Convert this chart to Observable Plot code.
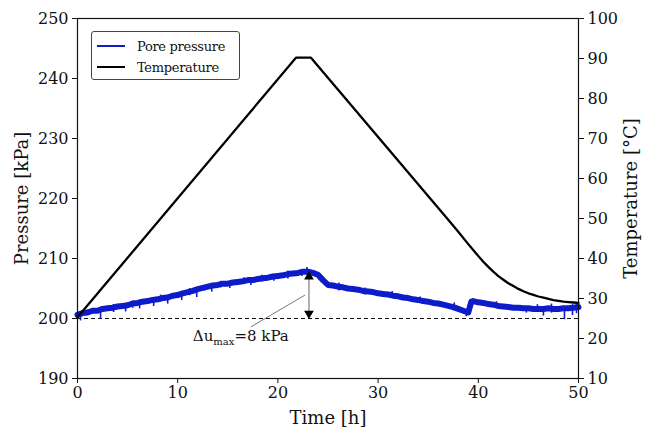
<!DOCTYPE html>
<html>
<head>
<meta charset="utf-8">
<script src="https://cdn.jsdelivr.net/npm/d3@7"></script>
<script src="https://cdn.jsdelivr.net/npm/@observablehq/plot@0.6"></script>
<style>
  html, body { margin: 0; padding: 0; background: #fff; }
  #wrap { position: relative; width: 650px; height: 435px; font-family: "DejaVu Serif", "Liberation Serif", serif; }
  #wrap svg, #wrap svg text { font-family: "DejaVu Serif", "Liberation Serif", serif !important; }
  #legend { position: absolute; left: 91px; top: 31px; width: 149px; height: 49px; border: 1px solid #444; border-radius: 3px; background: #fff; box-sizing: border-box; }
  .lg-row { position: absolute; left: 5px; height: 18px; display: flex; align-items: center; font-size: 13px; letter-spacing: -0.3px; white-space: nowrap; color: #111; }
  .lg-line { width: 28px; height: 0; border-top: 2px solid; margin-right: 12px; flex: none; }
</style>
</head>
<body>
<div id="wrap"></div>
<script>
// ---- data ----
const presTime = [0,0.5,1,1.5,2,2.5,3,3.5,4,4.5,5,5.5,6,6.5,7,7.5,8,8.5,9,9.5,10,10.5,11,11.5,12,12.5,13,13.5,14,14.5,15,15.5,16,16.5,17,17.5,18,18.5,19,19.5,20,20.5,21,21.5,22,22.5,23,23.5,24,24.5,25,25.5,26,26.5,27,27.5,28,28.5,29,29.5,30,30.5,31,31.5,32,32.5,33,33.5,34,34.5,35,35.5,36,36.5,37,37.5,38,38.5,39,39.3,39.5,40,40.5,41,41.5,42,42.5,43,43.5,44,44.5,45,45.5,46,46.5,47,47.5,48,48.5,49,49.5,50];
const presVal = [200.6,200.9,201.0,201.3,201.3,201.6,201.7,201.8,202.0,202.1,202.2,202.5,202.6,202.8,202.9,203.1,203.2,203.4,203.5,203.8,203.9,204.2,204.4,204.6,204.9,205.1,205.3,205.5,205.6,205.8,205.8,206.0,206.1,206.2,206.4,206.4,206.6,206.7,206.8,207.0,207.1,207.2,207.4,207.5,207.6,207.8,207.8,207.6,207.3,206.4,205.6,205.5,205.3,205.2,205.0,204.9,204.8,204.6,204.5,204.4,204.2,204.1,204.0,203.8,203.7,203.5,203.4,203.2,203.1,202.9,202.8,202.6,202.5,202.3,202.1,201.9,201.6,201.3,201.0,202.8,202.9,202.7,202.6,202.4,202.3,202.1,202.0,201.9,201.8,201.8,201.7,201.7,201.6,201.6,201.6,201.7,201.6,201.6,201.7,201.7,201.8,201.9];
// noise spikes (low / high end of each)
const spikeTime = [0.3,1.1,2.3,3.6,4.8,5.5,6.2,7.6,8.3,9.0,10.4,11.2,11.9,12.7,13.4,14.3,15.2,16.6,17.3,18.4,19.6,21.0,22.4,22.9,26.1,28.7,31.4,34.2,37.6,38.8,41.8,44.8,45.9,46.5,47.3,48.6,49.4,49.8];
const spikeLow  = [199.6,200.5,199.9,201.0,201.1,201.7,201.6,202.0,202.8,202.4,203.0,203.8,203.5,204.6,204.4,205.1,205.0,205.7,205.5,206.1,206.2,206.6,207.0,207.2,204.6,203.9,203.4,202.5,201.3,200.3,201.6,200.9,201.0,200.4,200.9,199.8,200.5,200.8];
const spikeTop  = [200.8,201.4,201.5,202.3,202.2,202.9,202.6,203.0,203.9,203.5,204.1,205.0,204.6,205.5,205.4,206.2,205.9,206.8,206.4,207.2,207.0,207.9,207.7,208.5,205.9,205.1,204.5,203.6,202.6,201.3,202.8,201.7,202.3,201.6,202.4,201.6,202.3,202.6];

const tempTime = [0,21.8,23.3,37,38,39,40,40.5,41,41.5,42,42.5,43,43.5,44,44.5,45,45.5,46,46.5,47,47.5,48,48.5,49,49.5,50];
const tempVal  = [25.3,90.2,90.2,49.7,46.7,43.6,40.6,39.2,37.9,36.7,35.6,34.7,33.8,33.1,32.4,31.8,31.3,30.9,30.5,30.2,29.9,29.6,29.4,29.2,29.1,29.0,28.9];

const xTicks = [0,10,20,30,40,50];
const pTicks = [190,200,210,220,230,240,250];
const tTicks = [10,20,30,40,50,60,70,80,90,100];

const baseline = 200;           // reference pressure
const duTime = 23.1, duTop = 207.8, duLabel = "8 kPa";
const labelTime = 16.3, labelP = 197.0;
const leader = {x1: 17.3, y1: 198.6, x2: 22.7, y2: 203.9};

// temperature -> pressure-axis mapping (right axis 10..100 over left 190..250)
const tToP = t => 190 + (t - 10) * (60 / 90);
const pToT = p => 10 + (p - 190) * (90 / 60);

const pres = presTime.map((t, i) => ({t, p: presVal[i]}));
const temp = tempTime.map((t, i) => ({t, p: tToP(tempVal[i])}));
const spikes = spikeTime.map((t, i) => ({t, lo: spikeLow[i], hi: spikeTop[i]}));

const blue = "#0d1bc9";
const FONT = '"DejaVu Serif", "Liberation Serif", serif';

const chart = Plot.plot({
  width: 650, height: 435,
  marginLeft: 77, marginRight: 72, marginTop: 18, marginBottom: 57,
  style: {fontFamily: FONT, fontSize: "16px", color: "#111", background: "#fff"},
  x: {domain: [0, 50]},
  y: {domain: [190, 250]},
  marks: [
    Plot.ruleY([baseline], {stroke: "#111", strokeWidth: 1, strokeDasharray: "4,3"}),
    Plot.ruleX(spikes, {x: "t", y1: "lo", y2: "hi", stroke: blue, strokeWidth: 1.6}),
    Plot.line(pres, {x: "t", y: "p", stroke: blue, strokeWidth: 6}),
    Plot.line(temp, {x: "t", y: "p", stroke: "#000", strokeWidth: 2.3}),
    Plot.link([leader], {x1: "x1", y1: "y1", x2: "x2", y2: "y2", stroke: "#555", strokeWidth: 0.8}),
    Plot.ruleX([duTime], {y1: baseline + 0.9, y2: duTop - 0.9, stroke: "#999", strokeWidth: 1.5}),
    Plot.dot([{t: duTime, p: duTop}], {x: "t", y: "p", symbol: "triangle", r: 3.6, fill: "#000", stroke: "none", dy: 5}),
    Plot.dot([{t: duTime, p: baseline}], {x: "t", y: "p", symbol: "triangle", r: 3.6, fill: "#000", stroke: "none", rotate: 180, dy: -5}),
    Plot.text([{t: labelTime, p: labelP}], {x: "t", y: "p", text: () => "DU", fontSize: 15, textAnchor: "middle", className: "du-label"}),
    Plot.frame({stroke: "#111", strokeWidth: 1.2}),
    Plot.axisX({ticks: xTicks, tickSize: 5, tickPadding: 3, label: "Time [h]", labelAnchor: "center", labelArrow: "none", labelOffset: 45}),
    Plot.axisY({anchor: "left", ticks: pTicks, tickSize: 5, tickPadding: 4, label: "Pressure [kPa]", labelAnchor: "center", labelArrow: "none", labelOffset: 62}),
    Plot.axisY({anchor: "right", ticks: tTicks.map(tToP), tickFormat: p => String(Math.round(pToT(p))), tickSize: 5, tickPadding: 4, label: "Temperature [°C]", labelAnchor: "center", labelArrow: "none", labelOffset: 58})
  ]
});

document.getElementById("wrap").appendChild(chart);

// axis label font size
d3.select(chart).selectAll('[aria-label$="axis label"] text').attr("font-size", 18);

// subscript in the Δu label
d3.select(chart).selectAll(".du-label text").each(function() {
  const el = d3.select(this);
  el.text(null);
  el.append("tspan").text("\u0394u");
  el.append("tspan").attr("font-size", 10).attr("dy", 4).text("max");
  el.append("tspan").attr("dy", -4).text("=" + duLabel);
});

// legend
const legendItems = [{name: "Pore pressure", color: blue}, {name: "Temperature", color: "#000"}];
const lg = document.createElement("div");
lg.id = "legend";
legendItems.forEach((d, i) => {
  const row = document.createElement("div");
  row.className = "lg-row";
  row.style.top = (5 + i * 21) + "px";
  row.innerHTML = `<span class="lg-line" style="border-color:${d.color}"></span><span>${d.name}</span>`;
  lg.appendChild(row);
});
document.getElementById("wrap").appendChild(lg);
</script>
</body>
</html>
